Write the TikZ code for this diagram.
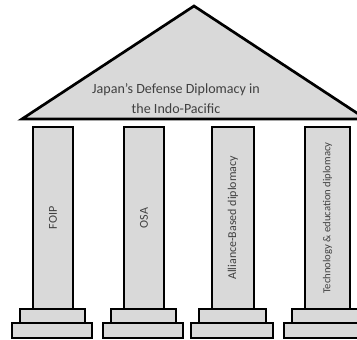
\documentclass[tikz,border=0pt]{standalone}
\usepackage{fontspec}
\setmainfont{Carlito}
\definecolor{pillarfill}{HTML}{D9D9D9}
\definecolor{pillartext}{HTML}{404040}
\begin{document}
\begin{tikzpicture}[x=0.03cm, y=-0.03cm, line join=miter,
    part/.style={draw=black, line width=2.3pt, fill=pillarfill},
    label/.style={text=pillartext, inner sep=0pt}]
  \useasboundingbox (0,0) rectangle (357,340);
  \begin{scope}
    \clip (0,0) rectangle (357,340);
    % roof
    \draw[part] (22,119) -- (194,6) -- (366,119) -- cycle;
    \node[label, align=center, font=\fontsize{12}{17}\selectfont] (roof) at (176,99)
      {Japan’s Defense Diplomacy in\\the Indo-Pacific};
    % four pillars: shaft left/right, label, size
    \foreach \sl/\sr/\nm/\txt/\fs in {33/73/foip/FOIP/10.3, 124/164/osa/OSA/10.3,
        212/254/alliance/Alliance-Based diplomacy/10.2,
        305/350/tech/Technology \& education diplomacy/9.1} {
      \draw[part] (\sl-13,309) rectangle (\sr+12,323);
      \draw[part] (\sl-21,323) rectangle (\sr+19,338);
      \draw[part] (\sl,127) rectangle (\sr,309);
      \node[label, rotate=90, font=\fontsize{\fs}{12}\selectfont] (\nm) at ({(\sl+\sr)/2},218) {\txt};
    }
  \end{scope}
\end{tikzpicture}
\end{document}
